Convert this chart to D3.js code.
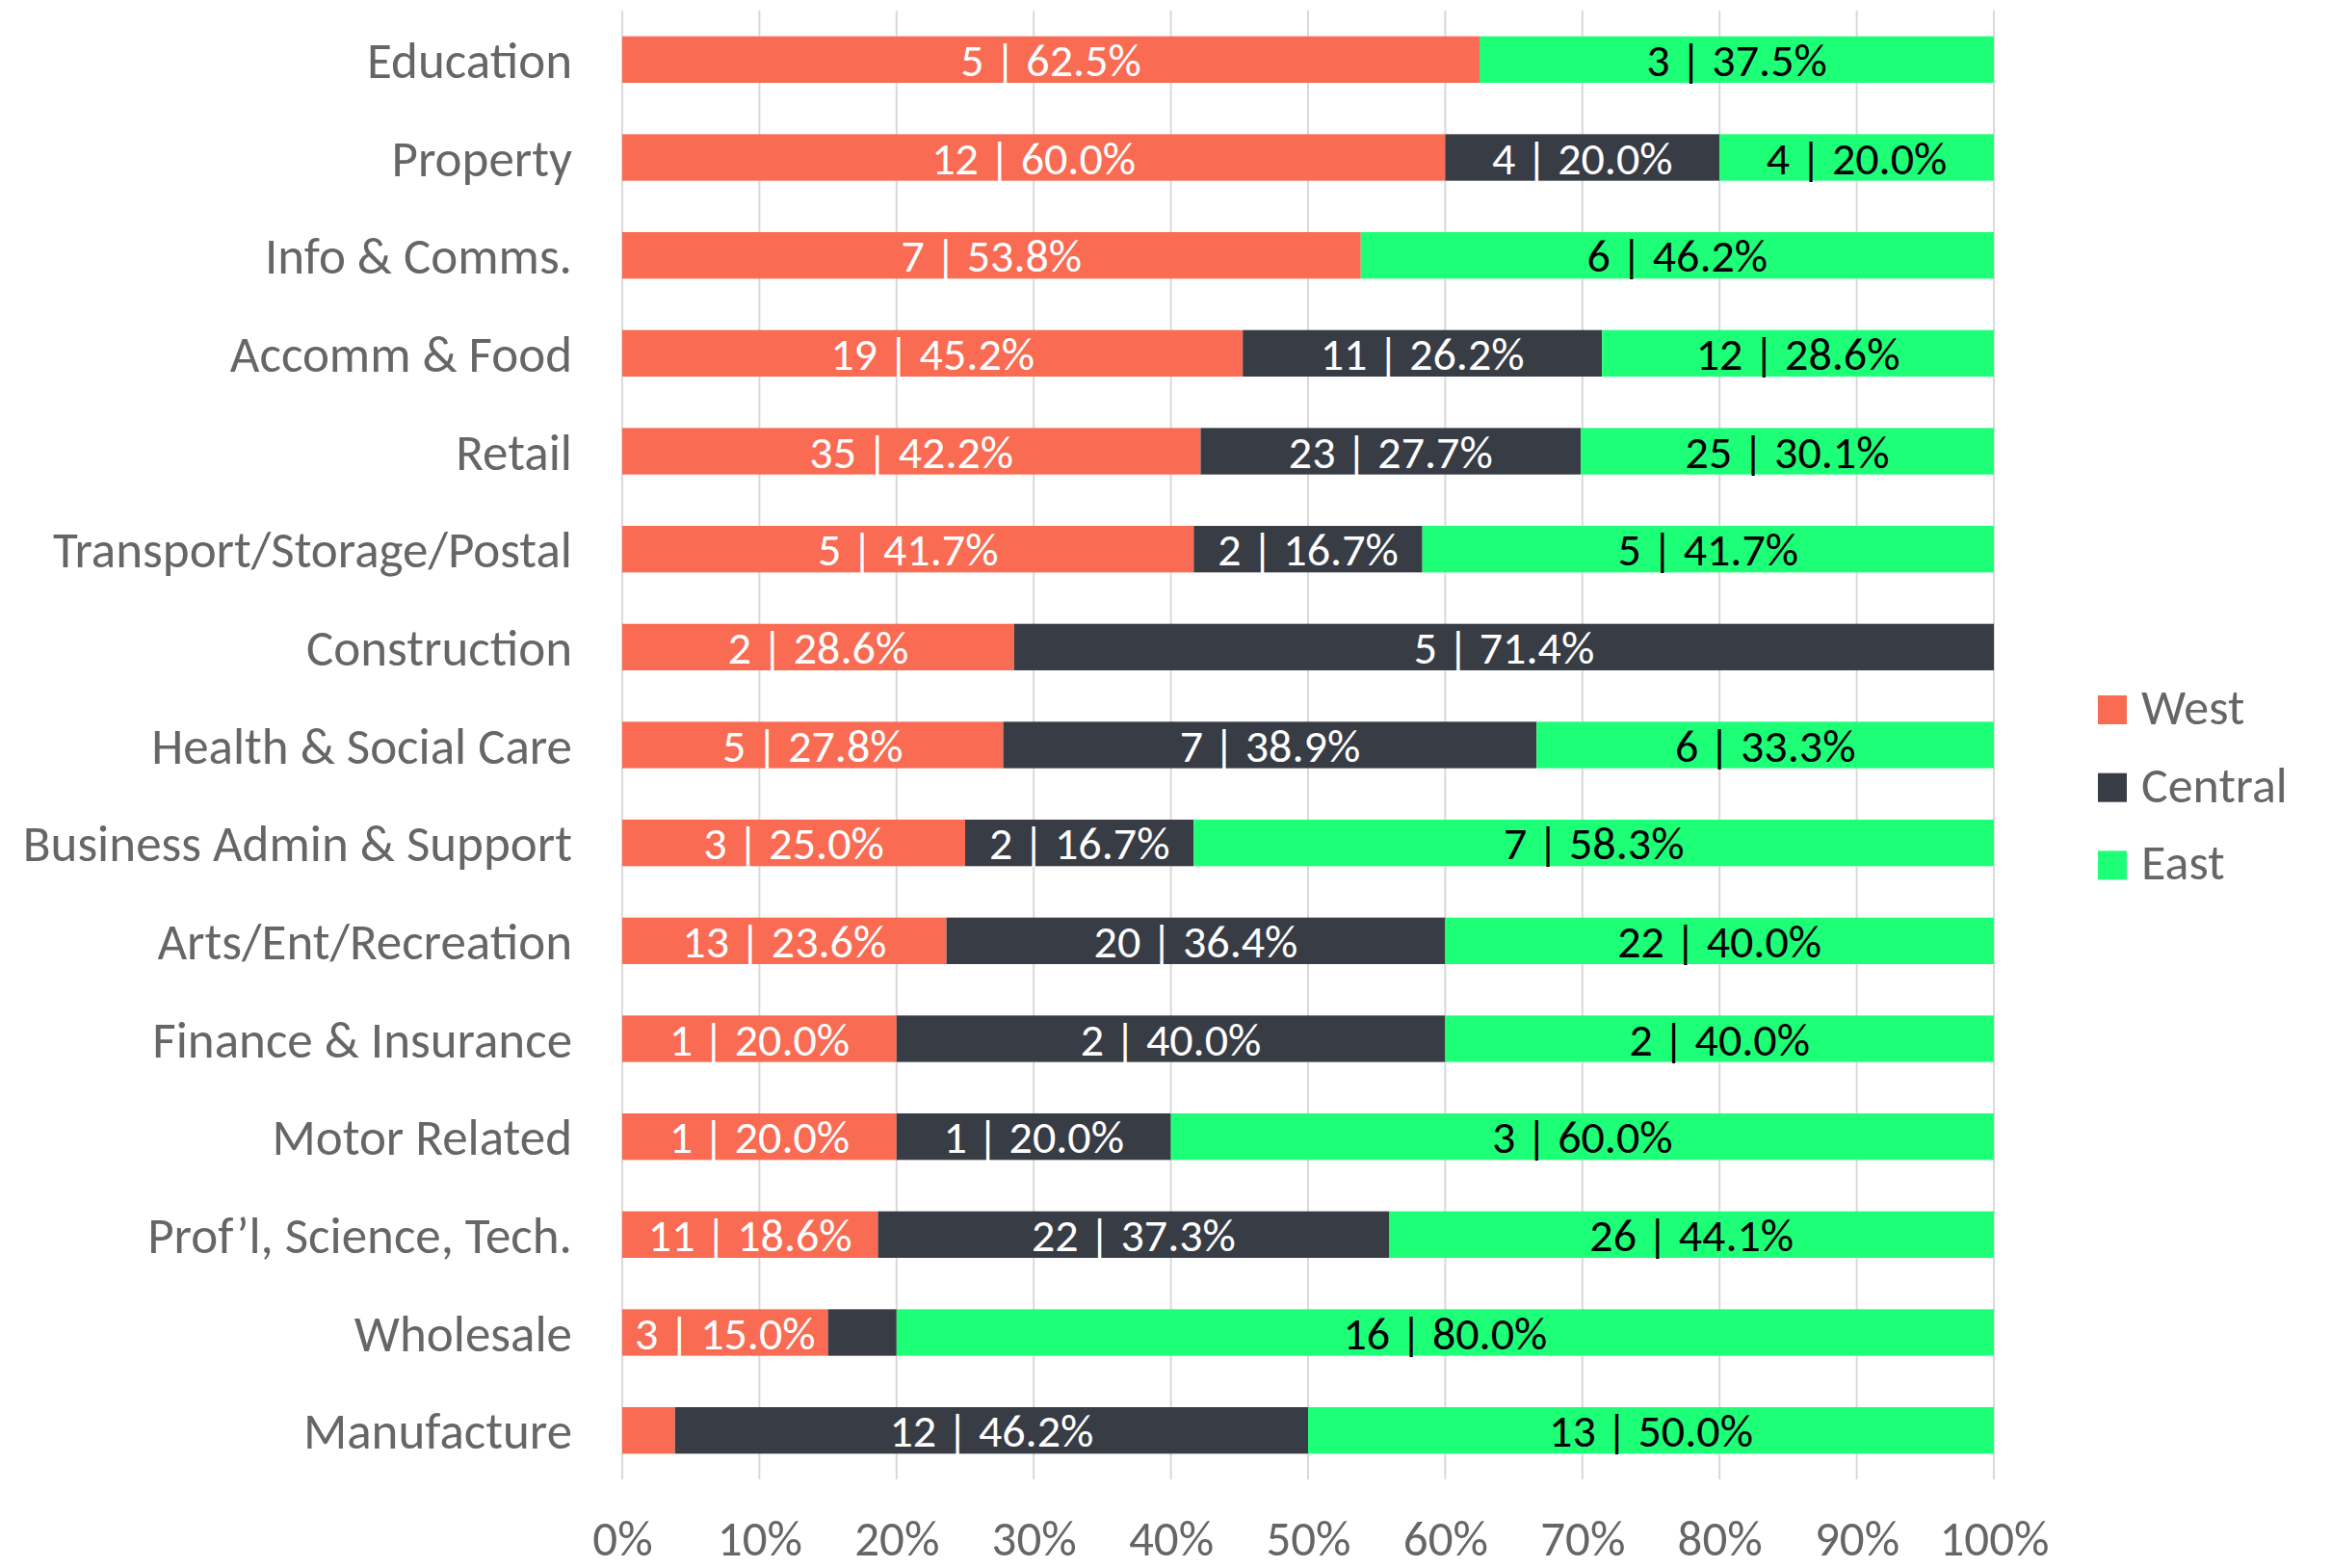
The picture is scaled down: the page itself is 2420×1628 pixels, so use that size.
<!DOCTYPE html>
<html>
<head>
<meta charset="utf-8">
<script src="https://cdn.jsdelivr.net/npm/d3@7"></script>
<style>
  html, body { margin: 0; padding: 0; background: #ffffff; }
  #chart { width: 2420px; height: 1628px; }
  text { font-family: Carlito, Calibri, Lato, sans-serif; }
</style>
</head>
<body>
<div id="chart"></div>
<script>
// -------------------------------
// Data
// -------------------------------
const categories = [
  "Education", "Property", "Info & Comms.", "Accomm & Food", "Retail",
  "Transport/Storage/Postal", "Construction", "Health & Social Care",
  "Business Admin & Support", "Arts/Ent/Recreation", "Finance & Insurance",
  "Motor Related", "Prof\u2019l, Science, Tech.", "Wholesale", "Manufacture"
];
const west    = [5, 12, 7, 19, 35, 5, 2, 5, 3, 13, 1, 1, 11, 3, 1];
const central = [0, 4, 0, 11, 23, 2, 5, 7, 2, 20, 2, 1, 22, 1, 12];
const east    = [3, 4, 6, 12, 25, 5, 0, 6, 7, 22, 2, 3, 26, 16, 13];

const seriesNames = ["West", "Central", "East"];
const xTicks = [0, 0.1, 0.2, 0.3, 0.4, 0.5, 0.6, 0.7, 0.8, 0.9, 1];

function renderChart() {
  const svgWidth = 2420;
  const svgHeight = 1628;

  const plot = { left: 646, right: 2070, top: 11, bottom: 1536 };

  const colors = { West: "#f96b53", Central: "#383c45", East: "#1eff78" };
  const labelColors = { West: "#ffffff", Central: "#ffffff", East: "#000000" };
  const textGray = "#666666";

  // rows for d3.stack
  const rows = categories.map((c, i) => ({
    category: c,
    West: west[i],
    Central: central[i],
    East: east[i],
  }));

  const stacked = d3.stack()
    .keys(seriesNames)
    .offset(d3.stackOffsetExpand)(rows);

  // -------------------------------
  // SVG
  // -------------------------------
  const svg = d3.select("#chart")
    .append("svg")
    .attr("width", svgWidth)
    .attr("height", svgHeight);

  // -------------------------------
  // Scales
  // -------------------------------
  const xScale = d3.scaleLinear().domain([0, 1]).range([plot.left, plot.right]);

  const yScale = d3.scaleBand()
    .domain(categories)
    .range([plot.top, plot.bottom])
    .padding(0);

  const barHeight = yScale.bandwidth() * 0.475;
  const barY = (c) => yScale(c) + (yScale.bandwidth() - barHeight) / 2;

  // -------------------------------
  // Gridlines
  // -------------------------------
  svg.append("g")
    .selectAll("line")
    .data(xTicks)
    .join("line")
    .attr("x1", (d) => xScale(d))
    .attr("x2", (d) => xScale(d))
    .attr("y1", plot.top)
    .attr("y2", plot.bottom)
    .attr("stroke", "#d9d9d9")
    .attr("stroke-width", 2);

  // -------------------------------
  // Bars
  // -------------------------------
  const layers = svg.append("g")
    .selectAll("g")
    .data(stacked)
    .join("g")
    .attr("fill", (s) => colors[s.key]);

  layers.selectAll("rect")
    .data((s) => s)
    .join("rect")
    .attr("x", (d) => xScale(d[0]))
    .attr("y", (d) => barY(d.data.category))
    .attr("width", (d) => xScale(d[1]) - xScale(d[0]))
    .attr("height", barHeight);

  // data labels "n | p%", skipped on thin segments
  stacked.forEach((s) => {
    svg.append("g")
      .selectAll("text")
      .data(s.filter((d) => d[1] - d[0] >= 0.1))
      .join("text")
      .attr("x", (d) => xScale((d[0] + d[1]) / 2))
      .attr("y", (d) => yScale(d.data.category) + yScale.bandwidth() / 2)
      .attr("dy", "0.36em")
      .attr("text-anchor", "middle")
      .attr("font-size", 48)
      .attr("fill", labelColors[s.key])
      .text((d) => d.data[s.key] + " | " + ((d[1] - d[0]) * 100).toFixed(1) + "%");
  });

  // -------------------------------
  // Axes
  // -------------------------------
  const yAxis = svg.append("g")
    .attr("transform", `translate(${plot.left - 52}, 0)`)
    .call(d3.axisLeft(yScale).tickSize(0).tickPadding(0));
  yAxis.select(".domain").remove();
  yAxis.selectAll("text")
    .attr("font-size", 53)
    .attr("fill", textGray)
    .attr("dy", "0.36em");

  const xAxis = svg.append("g")
    .attr("transform", `translate(0, ${plot.bottom})`)
    .call(d3.axisBottom(xScale).tickValues(xTicks).tickFormat(d3.format(".0%")).tickSize(0).tickPadding(0));
  xAxis.select(".domain").remove();
  xAxis.selectAll("text")
    .attr("font-size", 51)
    .attr("fill", textGray)
    .attr("y", 79)
    .attr("dy", 0);

  // -------------------------------
  // Legend
  // -------------------------------
  const legend = svg.append("g")
    .selectAll("g")
    .data(seriesNames)
    .join("g")
    .attr("transform", (d, i) => `translate(2178, ${722 + i * 80.7})`);

  legend.append("rect")
    .attr("width", 30)
    .attr("height", 30)
    .attr("fill", (d) => colors[d]);

  legend.append("text")
    .attr("x", 45)
    .attr("y", 30)
    .attr("font-size", 52)
    .attr("fill", textGray)
    .text((d) => d);
}

renderChart();
</script>
</body>
</html>
